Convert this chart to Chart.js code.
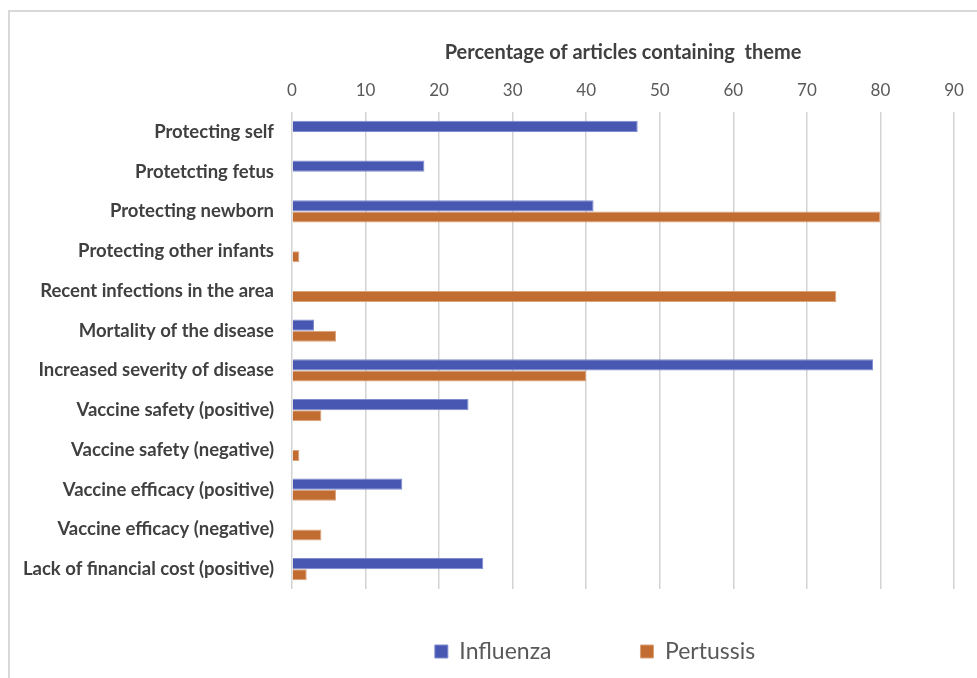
<!DOCTYPE html>
<html>
<head>
<meta charset="utf-8">
<script src="https://cdn.jsdelivr.net/npm/chart.js@4"></script>
<style>
  html, body { margin: 0; padding: 0; background: #fff; }
  #wrap { position: absolute; left: 0; top: 0; width: 977px; height: 678px; overflow: hidden; }
  #frame { position: absolute; left: 8px; top: 10px; width: 1000px; height: 700px; border: 2px solid #d9d9d9; }
  #chart { position: absolute; left: 0; top: 0; }
</style>
</head>
<body>
<div id="wrap">
  <div id="frame"></div>
  <canvas id="chart" width="977" height="678"></canvas>
</div>
<script>
const themes = [
  "Protecting self",
  "Protetcting fetus",
  "Protecting newborn",
  "Protecting other infants",
  "Recent infections in the area",
  "Mortality of the disease",
  "Increased severity of disease",
  "Vaccine safety (positive)",
  "Vaccine safety (negative)",
  "Vaccine efficacy (positive)",
  "Vaccine efficacy (negative)",
  "Lack of financial cost (positive)"
];
const influenza = [47, 18, 41, 0, 0, 3, 79, 24, 0, 15, 0, 26];
const pertussis = [0, 0, 80, 1, 74, 6, 40, 4, 1, 6, 4, 2];
const xTicks = [0, 10, 20, 30, 40, 50, 60, 70, 80, 90];

const font = "Lato, 'Open Sans', sans-serif";

// nudge the legend to where Excel put it, without changing the plot area
const legendNudge = {
  id: "legendNudge",
  afterLayout(chart) {
    const lg = chart.legend;
    lg.left += 118; lg.right += 118;
    lg.top -= 38;
  }
};

const ctx = document.getElementById("chart").getContext("2d");
new Chart(ctx, {
  type: "bar",
  data: {
    labels: themes,
    datasets: [
      {
        label: "Influenza",
        data: influenza,
        backgroundColor: "#4858b2",
        borderColor: "#7f8cd0",
        borderWidth: 1,
        categoryPercentage: 0.56,
        barPercentage: 1
      },
      {
        label: "Pertussis",
        data: pertussis,
        backgroundColor: "#c16c31",
        borderColor: "#dca27a",
        borderWidth: 1,
        categoryPercentage: 0.56,
        barPercentage: 1
      }
    ]
  },
  plugins: [legendNudge],
  options: {
    indexAxis: "y",
    responsive: false,
    animation: false,
    layout: { padding: { left: 0, right: 23, top: 30, bottom: 0 } },
    scales: {
      x: {
        position: "top",
        min: 0,
        max: 90,
        afterBuildTicks: axis => { axis.ticks = xTicks.map(v => ({ value: v })); },
        afterFit: axis => { axis.height = 82; },
        grid: { color: "#d3d3d3", lineWidth: 1.5, drawTicks: false },
        border: { display: false },
        ticks: {
          padding: 11,
          color: "#595959",
          font: { family: font, size: 17 }
        },
        title: {
          display: true,
          text: "Percentage of articles containing  theme",
          color: "#404040",
          font: { family: font, size: 20, weight: "bold" },
          padding: { top: 11, bottom: 0 }
        }
      },
      y: {
        afterFit: axis => { axis.width = 292; },
        grid: { display: false, drawTicks: false },
        border: { display: false },
        ticks: {
          padding: 18,
          color: "#404040",
          font: { family: font, size: 18.5, weight: "bold" }
        }
      }
    },
    plugins: {
      legend: {
        position: "bottom",
        maxHeight: 89,
        labels: {
          boxWidth: 13,
          boxHeight: 13,
          padding: 89,
          color: "#595959",
          font: { family: font, size: 23 }
        }
      },
      tooltip: { enabled: false }
    }
  }
});
</script>
</body>
</html>
